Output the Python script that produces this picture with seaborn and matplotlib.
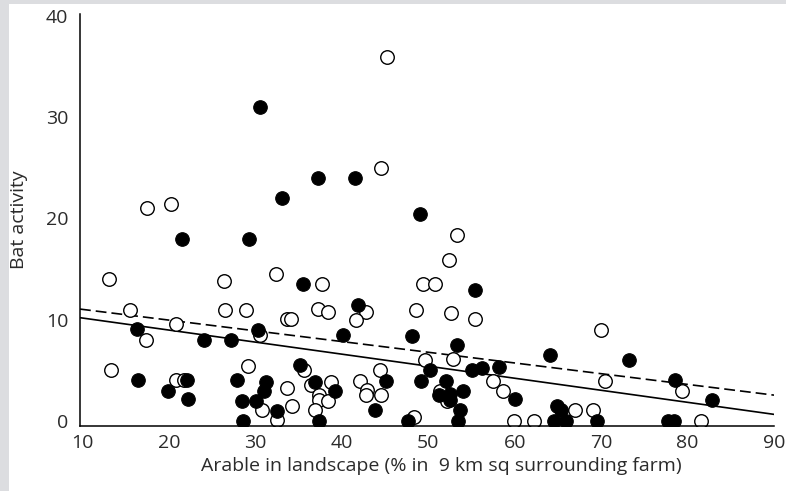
import matplotlib
matplotlib.use("Agg")
import matplotlib.pyplot as plt
from matplotlib.patches import Rectangle
import seaborn as sns
import pandas as pd

# ---- data ----
filled_x = [30.5, 37.2, 41.5, 33.1, 49.0, 21.5, 29.3, 35.5, 55.4, 41.9,
            16.3, 30.3, 40.1, 48.1, 24.0, 27.2, 53.3, 64.1, 73.2, 35.1,
            50.2, 55.1, 56.2, 58.2, 16.4, 22.1, 27.9, 31.2, 36.9, 45.1,
            49.2, 52.0, 78.5, 19.9, 31.0, 39.2, 54.0, 22.2, 28.4, 30.1,
            51.2, 52.5, 52.5, 60.0, 82.8, 32.5, 43.8, 53.7, 64.9, 65.4,
            28.6, 37.3, 47.6, 53.4, 64.5, 65.9, 69.5, 77.7, 78.4]
filled_y = [31.0, 24.0, 24.0, 22.0, 20.4, 18.0, 18.0, 13.5, 12.9, 11.5,
            9.1, 9.0, 8.45, 8.35, 7.95, 7.95, 7.5, 6.5, 6.0, 5.5,
            5.05, 5.05, 5.2, 5.3, 4.0, 4.0, 4.0, 3.8, 3.8, 3.96,
            3.96, 3.96, 4.05, 3.0, 3.0, 3.0, 3.0, 2.2, 2.0, 2.0,
            2.6, 2.7, 2.1, 2.2, 2.1, 1.0, 1.1, 1.1, 1.5, 1.1,
            0.0, 0.0, 0.0, 0.0, 0.0, 0.0, 0.0, 0.0, 0.0]

open_x = [45.2, 44.5, 17.5, 20.2, 53.3, 52.4, 32.4, 13.1, 26.3, 37.7,
          49.4, 50.8, 15.5, 26.5, 28.9, 37.2, 38.4, 42.8, 48.6, 52.6,
          55.4, 33.7, 34.1, 41.6, 20.8, 70.0, 30.5, 17.3, 49.6, 52.9,
          13.3, 29.1, 35.6, 44.4, 70.4, 20.8, 21.7, 36.4, 38.7, 42.1,
          57.5, 33.7, 42.9, 51.3, 58.6, 79.4, 37.4, 42.8, 44.5, 37.3,
          38.4, 52.2, 34.2, 30.8, 36.9, 67.0, 69.0, 48.3, 32.5, 59.9,
          62.2, 81.6]
open_y = [36.0, 25.0, 21.0, 21.4, 18.4, 15.9, 14.5, 14.0, 13.8, 13.5,
          13.5, 13.5, 11.0, 11.0, 11.0, 11.1, 10.8, 10.8, 11.0, 10.7,
          10.1, 10.1, 10.1, 10.0, 9.6, 9.0, 8.5, 7.95, 6.0, 6.1,
          5.0, 5.4, 5.05, 5.05, 3.96, 4.0, 4.0, 3.55, 3.8, 3.96,
          3.96, 3.25, 3.05, 3.0, 3.0, 3.0, 2.6, 2.6, 2.6, 2.1,
          2.0, 2.0, 1.5, 1.05, 1.05, 1.1, 1.1, 0.4, 0.1, 0.0,
          0.0, 0.0]

line_x = [9.69, 90.0]
solid_y = [10.2, 0.65]
dashed_y = [11.05, 2.55]

x_ticks = [10, 20, 30, 40, 50, 60, 70, 80, 90]
y_ticks = [0, 10, 20, 30, 40]
x_label = "Arable in landscape (% in  9 km sq surrounding farm)"
y_label = "Bat activity"

# ---- style ----
sns.set_theme(style="white")
plt.rcParams["font.family"] = ["Open Sans", "DejaVu Sans"]
text_col = "#2b2b2b"
fs = 14

fig = plt.figure(figsize=(7.86, 4.91), dpi=100, facecolor="#dcdde0")
fig.patches.append(Rectangle((9 / 786, 0), 1, 1 - 4 / 491, transform=fig.transFigure,
                             facecolor="white", edgecolor="none", zorder=-10))
ax = fig.add_axes([80 / 786, 1 - 426 / 491, 694 / 786, 412 / 491])
ax.set_facecolor("white")

lines_df = pd.DataFrame({"x": line_x + line_x,
                         "y": solid_y + dashed_y,
                         "kind": ["solid"] * 2 + ["dashed"] * 2})
sns.lineplot(data=lines_df[lines_df.kind == "solid"], x="x", y="y", ax=ax,
             color="black", linewidth=1.2, zorder=1)
sns.lineplot(data=lines_df[lines_df.kind == "dashed"], x="x", y="y", ax=ax,
             color="black", linewidth=1.2, dashes=False, zorder=1,
             linestyle=(0, (6.5, 3.0)))

open_df = pd.DataFrame({"x": open_x, "y": open_y})
filled_df = pd.DataFrame({"x": filled_x, "y": filled_y})
sns.scatterplot(data=open_df, x="x", y="y", ax=ax, s=95, facecolor="white",
                edgecolor="black", linewidth=1.0, zorder=2)
sns.scatterplot(data=filled_df, x="x", y="y", ax=ax, s=95, color="black",
                edgecolor="black", linewidth=0.8, zorder=3)

ax.set_xlim(9.69, 90.0)
ax.set_ylim(-0.5, 40.2)
ax.set_xticks(x_ticks)
ax.set_yticks(y_ticks)
ax.set_xticklabels([str(t) for t in x_ticks])
ax.set_yticklabels([str(t) for t in y_ticks])

for s in ["top", "right"]:
    ax.spines[s].set_visible(False)
for s in ["left", "bottom"]:
    ax.spines[s].set_color("black")
    ax.spines[s].set_linewidth(1.1)

ax.tick_params(axis="both", which="major", direction="out", length=3.5, width=1.0,
               color="black", labelsize=fs, labelcolor=text_col)
ax.tick_params(axis="x", pad=2.5)
ax.tick_params(axis="y", pad=5)

ax.set_xlabel(x_label, fontsize=fs, color=text_col)
ax.set_ylabel(y_label, fontsize=fs, color=text_col)
ax.xaxis.set_label_coords(0.52, -0.075)
ax.yaxis.set_label_coords(-0.075, 0.5)

fig.savefig("out.png", dpi=100, facecolor=fig.get_facecolor())
